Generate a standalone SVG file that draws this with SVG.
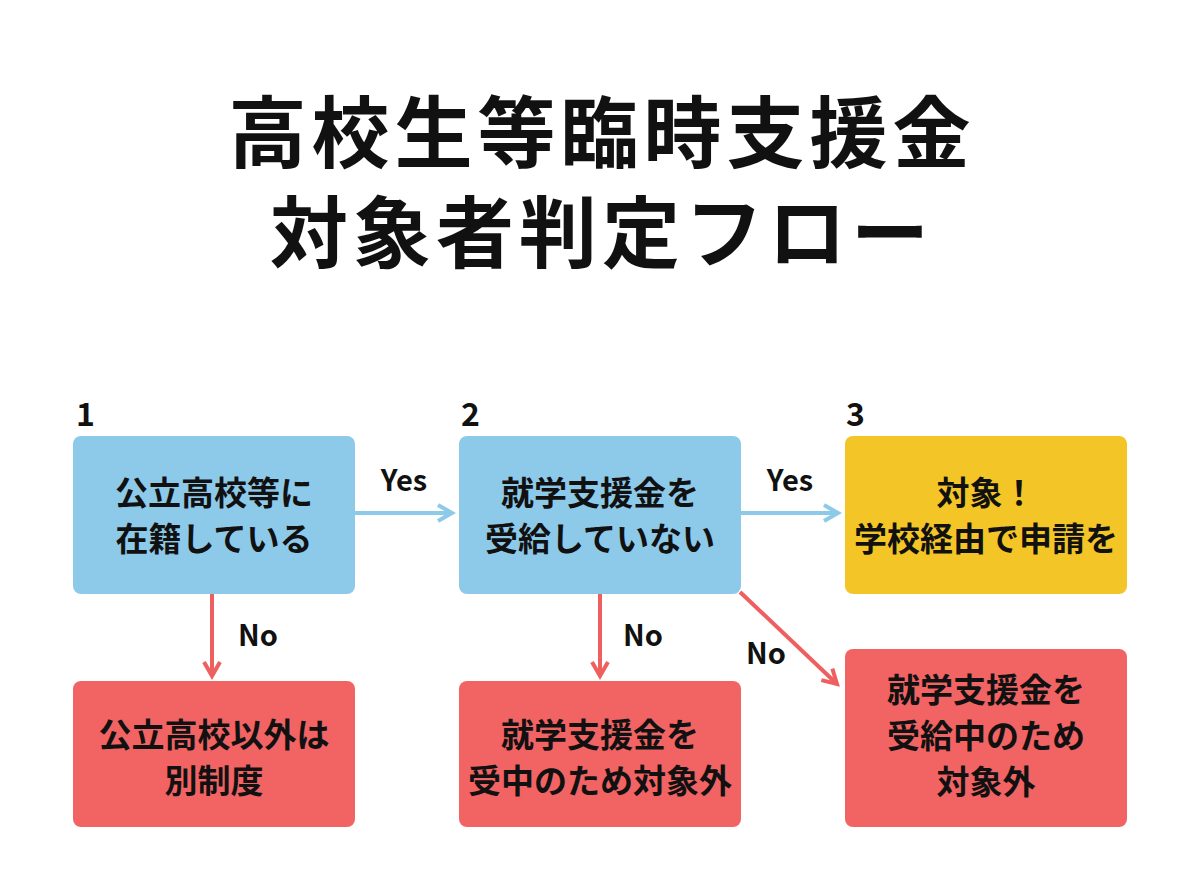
<svg xmlns="http://www.w3.org/2000/svg" width="1200" height="896" viewBox="0 0 1200 896">
<style>
text{font-family:"Noto Sans CJK JP","Noto Sans",sans-serif;font-weight:bold;fill:#111;text-anchor:middle}
.t{font-size:78px;letter-spacing:5px}
.b{font-size:33px}
.n{font-size:32px;text-anchor:start}
.l{font-size:29px}
.blue{fill:#8DCAEA}.red{fill:#F26363}.yel{fill:#F4C526}
</style>
<defs>
<marker id="ab" viewBox="0 0 10 10" refX="8" refY="5" markerWidth="5" markerHeight="5" orient="auto"><path d="M1,1 L8,5 L1,9" fill="none" stroke="#8DCAEA" stroke-width="2"/></marker>
<marker id="ar" viewBox="0 0 10 10" refX="8" refY="5" markerWidth="5" markerHeight="5" orient="auto"><path d="M1,1 L8,5 L1,9" fill="none" stroke="#EE6060" stroke-width="2"/></marker>
</defs>
<rect width="1200" height="896" fill="#fff"/>
<text class="t" x="602" y="162">高校生等臨時支援金</text>
<text class="t" x="602" y="262">対象者判定フロー</text>
<g id="n1"><text class="n" x="76" y="426">1</text><rect class="blue" x="73" y="436" width="282" height="158" rx="8"/><text class="b" x="214" y="505">公立高校等に</text><text class="b" x="214" y="551">在籍している</text></g>
<g id="n2"><text class="n" x="461" y="426">2</text><rect class="blue" x="459" y="436" width="282" height="158" rx="8"/><text class="b" x="600" y="505">就学支援金を</text><text class="b" x="600" y="551">受給していない</text></g>
<g id="n3"><text class="n" x="846" y="426">3</text><rect class="yel" x="845" y="436" width="282" height="158" rx="8"/><text class="b" x="986" y="505">対象！</text><text class="b" x="986" y="551">学校経由で申請を</text></g>
<g id="n4"><rect class="red" x="73" y="681" width="282" height="146" rx="8"/><text class="b" x="214" y="747">公立高校以外は</text><text class="b" x="214" y="793">別制度</text></g>
<g id="n5"><rect class="red" x="459" y="681" width="282" height="146" rx="8"/><text class="b" x="600" y="747">就学支援金を</text><text class="b" x="600" y="793">受中のため対象外</text></g>
<g id="n6"><rect class="red" x="845" y="649" width="282" height="178" rx="8"/><text class="b" x="986" y="702">就学支援金を</text><text class="b" x="986" y="748">受給中のため</text><text class="b" x="986" y="794">対象外</text></g>
<g id="connectors" fill="none" stroke-width="4">
<line x1="355" y1="513" x2="452" y2="513" stroke="#8DCAEA" marker-end="url(#ab)"/>
<line x1="741" y1="513" x2="838" y2="513" stroke="#8DCAEA" marker-end="url(#ab)"/>
<line x1="212" y1="594" x2="212" y2="676" stroke="#EE6060" marker-end="url(#ar)"/>
<line x1="600" y1="594" x2="600" y2="676" stroke="#EE6060" marker-end="url(#ar)"/>
<line x1="740" y1="592" x2="837" y2="684" stroke="#EE6060" marker-end="url(#ar)"/>
</g>
<text class="l" x="404" y="491">Yes</text>
<text class="l" x="790" y="491">Yes</text>
<text class="l" x="258" y="646">No</text>
<text class="l" x="643" y="646">No</text>
<text class="l" x="766" y="664">No</text>
</svg>
